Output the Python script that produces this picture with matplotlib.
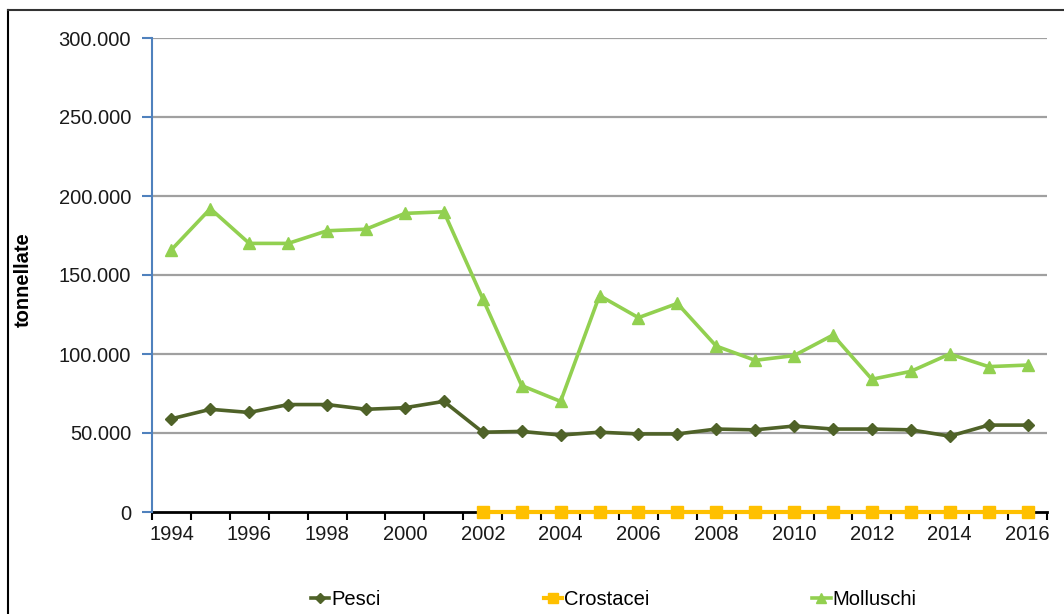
import matplotlib.pyplot as plt
import numpy as np
from matplotlib.lines import Line2D
from matplotlib.ticker import FuncFormatter

plt.rcParams['font.family'] = ['Liberation Sans', 'DejaVu Sans']

anni = list(range(1994, 2017))
pesci = [59000, 65000, 63000, 68000, 68000, 65000, 66000, 70000,
         50500, 51000, 48700, 50500, 49400, 49400, 52500, 52000,
         54400, 52500, 52500, 52000, 48000, 55000, 55000]
# crostacei disponibili solo dal 2002
crostacei = [None] * 8 + [0] * 15
molluschi = [166000, 192000, 170000, 170000, 178000, 179000, 189000, 190000,
             135000, 80000, 70000, 137000, 123000, 132000, 105000, 96000,
             99000, 112000, 84000, 89000, 100000, 92000, 93000]
y_ticks = [0, 50000, 100000, 150000, 200000, 250000, 300000]

x = np.arange(len(anni))
cro = np.array([np.nan if v is None else v for v in crostacei], dtype=float)

fig = plt.figure(figsize=(10.64, 6.14), dpi=100)
ax = fig.add_axes([152/1064, 1 - 512/614, 895/1064, 474/614])

for yv in y_ticks[1:]:
    ax.axhline(yv, color='#a0a0a0', lw=1.6, zorder=1)

ax.plot(x, pesci, color='#4f6228', lw=2.6, marker='D', ms=6, label='Pesci', zorder=3)
ax.plot(x, cro, color='#ffc000', lw=3, marker='s', ms=8, label='Crostacei', zorder=4,
        clip_on=False)
ax.plot(x, molluschi, color='#92d050', lw=2.6, marker='^', ms=8, label='Molluschi', zorder=3)

ax.set_xlim(-0.5, len(anni) - 0.5)
ax.set_ylim(0, 300000)

# tacche tra le categorie, etichette ogni due anni
ax.set_xticks(np.arange(-0.5, len(anni)), labels=[])
ax.set_xticks(x[::2], labels=[str(a) for a in anni[::2]], minor=True)
ax.tick_params(axis='x', which='major', length=6, width=1.5, color='black', direction='out')
ax.tick_params(axis='x', which='minor', length=0, pad=9, labelsize=14.5, labelcolor='#1a1a1a')

ax.set_yticks(y_ticks)
ax.yaxis.set_major_formatter(FuncFormatter(lambda v, p: f'{int(v):,}'.replace(',', '.')))
ax.tick_params(axis='y', length=7, width=1.5, color='#4f81bd', direction='out', pad=8,
               labelsize=14.5, labelcolor='#1a1a1a')

for s in ['top', 'right']:
    ax.spines[s].set_visible(False)
ax.spines['left'].set_color('#4f81bd')
ax.spines['left'].set_linewidth(1.5)
ax.spines['bottom'].set_color('black')
ax.spines['bottom'].set_linewidth(2)
ax.spines['bottom'].set_zorder(2)

ax.set_ylabel('tonnellate', fontsize=14.5, fontweight='bold')
ax.yaxis.set_label_coords(-0.133, 0.49)

ax.legend(loc='center', bbox_to_anchor=(0.516, -0.185), ncol=3, frameon=False,
          fontsize=14.5, handlelength=0.9, handletextpad=0.1, columnspacing=8.1,
          markerscale=0.9)

# cornice del grafico
fig.add_artist(Line2D([8/1064, 8/1064], [0, 1 - 10/614], transform=fig.transFigure,
                      color='black', lw=1.5))
fig.add_artist(Line2D([8/1064, 1], [1 - 10/614, 1 - 10/614], transform=fig.transFigure,
                      color='#333333', lw=1.5))

fig.savefig('out.png', dpi=100)
